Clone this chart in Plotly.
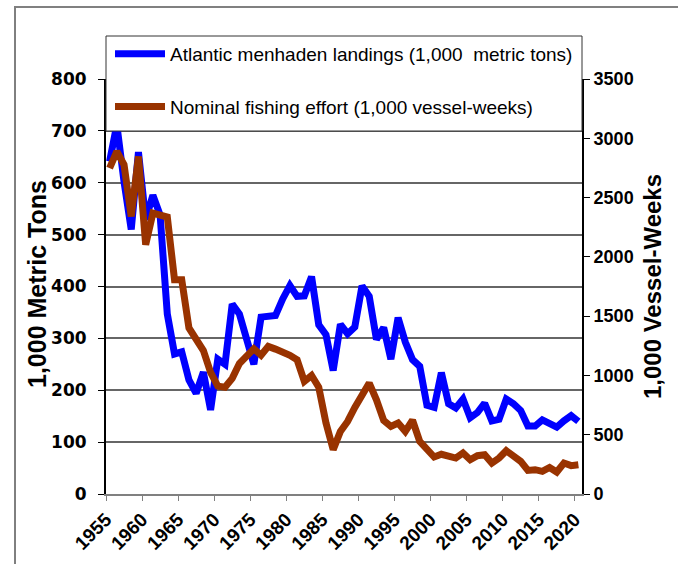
import plotly.graph_objects as go

years = list(range(1955, 2021))

landings = [641, 712, 602, 510, 659, 529, 576, 538, 347, 270,
            274, 220, 194, 235, 162, 260, 250, 366, 347, 292,
            250, 341, 341, 344, 376, 402, 381, 382, 419, 326,
            307, 238, 327, 309, 322, 401, 381, 298, 321, 260,
            340, 293, 259, 246, 171, 167, 234, 174, 166, 183,
            147, 157, 175, 141, 144, 183, 174, 161, 131, 131,
            143, 137, 129, 141, 151, 140]

effort = [2749, 2889, 2777, 2341, 2847, 2102, 2369, 2347, 2336, 1807,
          1807, 1400, 1310, 1210, 1025, 910, 900, 975, 1100, 1160,
          1225, 1170, 1245, 1222, 1200, 1170, 1132, 950, 1000, 900,
          600, 374, 528, 612, 730, 823, 936, 795, 620, 570,
          599, 528, 622, 444, 385, 312, 335, 317, 303, 346,
          289, 323, 331, 261, 303, 365, 323, 275, 199, 205,
          191, 224, 185, 261, 239, 247]

label_years = list(range(1955, 2021, 5))
left_ticks = list(range(0, 801, 100))
right_ticks = list(range(0, 3501, 500))

FONT = "Liberation Sans, Arial, sans-serif"
WIDE = "DejaVu Sans, Verdana, sans-serif"

fig = go.Figure()
fig.add_trace(go.Scatter(
    x=years, y=landings, mode="lines",
    name="Atlantic menhaden landings (1,000\u00a0 metric tons)",
    line=dict(color="#0000FF", width=7), legendgroup="a"))
fig.add_trace(go.Scatter(
    x=years, y=effort, mode="lines", yaxis="y2",
    name="Nominal fishing effort (1,000 vessel-weeks)",
    line=dict(color="#993300", width=7), legendgroup="b"))

# pixel -> paper helpers for the plot frame (plot area: x 106..582, y 79..494)
L, R, T, B = 106, 582, 79, 494
def px(x):
    return (x - L) / (R - L)
def py(y):
    return (B - y) / (B - T)

fig.update_layout(
    width=678, height=564,
    margin=dict(l=L, r=678 - R, t=T, b=564 - B),
    paper_bgcolor="white", plot_bgcolor="white",
    font=dict(family=FONT, color="black"),
    showlegend=True,
    legend=dict(x=px(110), y=py(35), xanchor="left", yanchor="top",
                bgcolor="rgba(0,0,0,0)", borderwidth=0,
                font=dict(family=FONT, size=19, color="black"),
                tracegroupgap=25, itemwidth=50),
    xaxis=dict(range=[1954.5, 2020.5], automargin=False,
               tickvals=[y - 0.5 for y in label_years],
               ticktext=[str(y) for y in label_years],
               tickangle=-45, ticks="outside", ticklen=5, tickcolor="#808080",
               tickfont=dict(family=FONT, size=19, color="black", weight="bold"),
               showgrid=False, zeroline=False,
               showline=True, linecolor="#808080", linewidth=2),
    yaxis=dict(range=[0, 800], tickvals=left_ticks, automargin=False,
               ticks="outside", ticklen=6, tickcolor="black", ticklabelstandoff=8,
               tickfont=dict(family=WIDE, size=17, color="black", weight="bold"),
               showgrid=True, gridcolor="#666666", gridwidth=1.5,
               zeroline=False, showline=True, linecolor="black", linewidth=2),
    yaxis2=dict(range=[0, 3500], tickvals=right_ticks, overlaying="y", side="right",
                automargin=False,
                ticks="outside", ticklen=6, tickcolor="black",
                tickfont=dict(family=FONT, size=18, color="black", weight="bold"),
                showgrid=False, zeroline=False,
                showline=True, linecolor="black", linewidth=2,
                title=dict(text="1,000 Vessel-Weeks", standoff=12,
                           font=dict(family=FONT, size=24, color="black", weight="bold"))),
    annotations=[
        dict(text="1,000 Metric Tons", xref="paper", yref="paper",
             x=px(37), y=py(284), xanchor="center", yanchor="middle",
             textangle=-90, showarrow=False,
             font=dict(family=FONT, size=25, color="black", weight="bold")),
    ],
    shapes=[
        # legend box (covers top of plot)
        dict(type="rect", xref="paper", yref="paper",
             x0=px(106), x1=px(582), y0=py(131), y1=py(36),
             fillcolor="white", line=dict(color="#333333", width=1), layer="above"),
        # outer chart frame (left and top edges)
        dict(type="line", xref="paper", yref="paper",
             x0=px(15), x1=px(15), y0=py(6), y1=py(564),
             line=dict(color="black", width=1), layer="above"),
        dict(type="line", xref="paper", yref="paper",
             x0=px(15), x1=px(678), y0=py(7), y1=py(7),
             line=dict(color="#808080", width=2), layer="above"),
    ],
)

fig.write_html("out.html", config={"displayModeBar": False},
               post_script="document.body.style.margin='0';document.body.style.padding='0';")
